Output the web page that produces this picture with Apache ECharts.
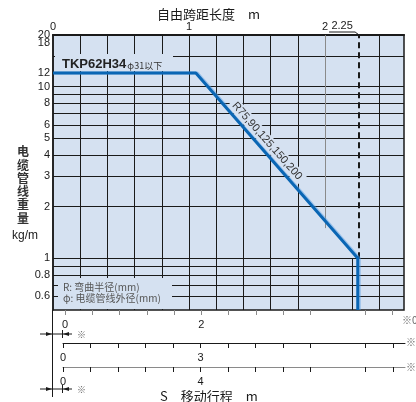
<!DOCTYPE html>
<html><head><meta charset="utf-8">
<script src="https://cdn.jsdelivr.net/npm/echarts@6/dist/echarts.min.js"></script>
<style>html,body{margin:0;padding:0;background:#fff}#c{width:416px;height:402px}</style>
</head><body><div id="c"></div>
<script>
// ---- data ----
const spanX   = [0, 1.05, 2.24, 2.24];      // free span length (m)
const weightY = [12, 12, 1, 0.5];           // cable weight (kg/m)
const limitSpan = 2.25;                     // dashed limit
const limitTop = 1;                         // dashed line ends at 1 kg/m
const topLabels = [0, 1, 2];
const yLabels = [20, 18, 12, 10, 8, 6, 5, 4, 3, 2, 1, 0.8, 0.6];
const yGrid   = [15, 10, 9, 8, 7, 6, 5, 4, 3, 2, 1, 0.9, 0.8, 0.7, 0.6];
const xGrid   = [0.2, 0.4, 0.6, 0.8, 1.0, 1.2, 1.4, 1.6, 1.8, 2.4];
const xGridUpper = [2.0];   // only above 1.5 kg/m
const xGridLower = [2.2];   // only below 1 kg/m
const stroke1Labels = [0, 2, 4];
const stroke2Labels = [0, 3, 6];
const stroke3Labels = [0, 4, 8];

const X_MAX = 2.58, Y_MIN = 0.5, Y_MAX = 20;
const FONT = '"Liberation Sans", "Noto Sans CJK SC", sans-serif';
const CJK = '"Noto Sans CJK SC", "Liberation Sans", sans-serif';
const PLOT_BG = '#d5e1f1';
const INK = '#1a1a1a';
const BLUE = '#0a66b4';
const r2 = v => Math.round(v * 100) / 100;

const chart = echarts.init(document.getElementById('c'), null, {renderer: 'canvas'});

function strokeAxis(gi, labels, step, max, lineColor, tickColor, showLine, margin) {
  const ticks = [];
  for (let v = 0; v <= max + 1e-9; v += step) ticks.push(r2(v));
  return {
    type: 'value', gridIndex: gi, position: 'bottom', min: 0, max: max, interval: step,
    axisLine: {show: showLine, lineStyle: {color: lineColor, width: 1}},
    axisTick: {show: true, length: 5, inside: false, customValues: ticks, lineStyle: {color: tickColor}},
    axisLabel: {customValues: labels, margin: margin, fontSize: 11, color: INK, fontFamily: FONT,
      showMaxLabel: false,
      formatter: v => labels.includes(r2(v)) ? String(r2(v)) : ''},
    splitLine: {show: false}
  };
}

const gridLines = [];
yGrid.forEach(v => gridLines.push([{coord: [0, v]}, {coord: [X_MAX, v]}]));
xGrid.forEach(v => gridLines.push([{coord: [v, Y_MIN]}, {coord: [v, Y_MAX]}]));
xGridUpper.forEach(v => gridLines.push([{coord: [v, 1.5], lineStyle: {color: '#8a8a8a'}}, {coord: [v, Y_MAX]}]));
xGridLower.forEach(v => gridLines.push([{coord: [v, Y_MIN]}, {coord: [v, 1]}]));
const labelLines = yLabels.map(v => [{coord: [0, v], name: String(v)}, {coord: [0.01, v]}]);

const option = {
  animation: false,
  grid: [
    {left: 53, top: 35, width: 351, height: 275, show: true, backgroundColor: PLOT_BG, borderColor: INK, borderWidth: 1.5},
    {left: 65, top: 300, width: 339, height: 10},
    {left: 63, top: 333, width: 342, height: 10},
    {left: 63, top: 357, width: 342, height: 10}
  ],
  xAxis: [
    {type: 'value', gridIndex: 0, position: 'top', min: 0, max: X_MAX, interval: 0.2,
      axisLine: {show: true, lineStyle: {color: INK, width: 2}}, axisTick: {show: false},
      axisLabel: {margin: 3, fontSize: 11, color: INK, fontFamily: FONT, showMaxLabel: false,
        formatter: v => topLabels.includes(r2(v)) ? String(r2(v)) : ''},
      splitLine: {show: false}},
    strokeAxis(1, stroke1Labels, 0.4, 4.97, INK, '#8a8a8a', false, 9),
    strokeAxis(2, stroke2Labels, 0.6, 7.46, INK, INK, true, 9),
    strokeAxis(3, stroke3Labels, 0.8, 9.95, '#8a8a8a', INK, true, 9)
  ],
  yAxis: [
    {type: 'log', logBase: 10, gridIndex: 0, min: Y_MIN, max: Y_MAX,
      axisLine: {show: true, lineStyle: {color: INK, width: 1.5}}, axisTick: {show: false},
      axisLabel: {show: false}, splitLine: {show: false}, minorTick: {show: false}},
    {type: 'value', gridIndex: 1, show: false},
    {type: 'value', gridIndex: 2, show: false},
    {type: 'value', gridIndex: 3, show: false}
  ],
  series: [
    {type: 'line', xAxisIndex: 0, yAxisIndex: 0, data: [], z: 1, silent: true,
      markLine: {silent: true, symbol: ['none', 'none'], animation: false,
        label: {show: false},
        lineStyle: {color: INK, width: 1, type: 'solid'},
        data: gridLines}},
    {type: 'line', xAxisIndex: 0, yAxisIndex: 0, data: [], z: 1, silent: true,
      markLine: {silent: true, symbol: ['none', 'none'], animation: false,
        label: {show: true, position: 'start', distance: 3, formatter: '{b}', fontSize: 11, color: INK, fontFamily: FONT},
        lineStyle: {color: 'rgba(0,0,0,0)', width: 1},
        data: labelLines}},
    {type: 'line', xAxisIndex: 0, yAxisIndex: 0, data: [], z: 2, silent: true,
      markLine: {silent: true, symbol: ['none', 'none'], animation: false,
        label: {show: false},
        lineStyle: {color: INK, width: 2, type: [6, 4]},
        data: [[{coord: [limitSpan, limitTop]}, {coord: [limitSpan, Y_MAX]}]]}},
    {type: 'line', name: 'TKP62H34', xAxisIndex: 0, yAxisIndex: 0, z: 5,
      data: spanX.map((x, i) => [x, weightY[i]]),
      symbol: 'none',
      lineStyle: {color: BLUE, width: 3, shadowColor: 'rgba(90,160,230,0.5)', shadowBlur: 0, shadowOffsetX: 1.5, shadowOffsetY: 0}}
  ]
};
chart.setOption(option);

// annotation positions from the chart's scales
const pLimit = chart.convertToPixel({xAxisIndex: 0, yAxisIndex: 0}, [limitSpan, Y_MAX]);
const lx = pLimit[0], ty = pLimit[1];

const arrowRow = y => ([
  {type: 'line', shape: {x1: 40, y1: y, x2: 72, y2: y}, style: {stroke: INK, lineWidth: 1}, z: 100},
  {type: 'polygon', shape: {points: [[46, y - 2], [52, y], [46, y + 2]]}, style: {fill: INK}, z: 100},
  {type: 'polygon', shape: {points: [[69, y - 2], [63, y], [69, y + 2]]}, style: {fill: INK}, z: 100},
  {type: 'line', shape: {x1: 62.5, y1: y - 4, x2: 62.5, y2: y + 4}, style: {stroke: INK, lineWidth: 1}, z: 100},
  {type: 'text', x: 77, y: y + 1, style: {text: '※', font: '9px ' + CJK, fill: '#666', verticalAlign: 'middle'}, z: 100}
]);

chart.setOption({
  graphic: [
    // titles
    {type: 'text', x: 157, y: 14, style: {text: '自由跨距长度　m', font: '13px ' + CJK, fill: INK, verticalAlign: 'middle'}, z: 100},
    {type: 'text', x: 160, y: 396, style: {text: 'S　移动行程　m', font: '13px ' + CJK, fill: INK, verticalAlign: 'middle'}, z: 100},
    {type: 'text', x: 23, y: 145, style: {text: '电\n缆\n管\n线\n重\n量', font: 'bold 12px ' + CJK, lineHeight: 13.3, fill: '#333', align: 'center'}, z: 100},
    {type: 'text', x: 25, y: 236, style: {text: 'kg/m', font: '12px ' + FONT, fill: INK, align: 'center', verticalAlign: 'middle'}, z: 100},
    // model label box
    {type: 'rect', shape: {x: 55, y: 54, width: 118, height: 17}, style: {fill: PLOT_BG}, z: 90},
    {type: 'text', x: 62, y: 64, z: 100, style: {
      text: '{a|TKP62H34}{b|φ31以下}', verticalAlign: 'middle',
      rich: {a: {font: 'bold 13px ' + FONT, fill: '#222'}, b: {font: '9px ' + CJK, fill: '#333', padding: [3, 0, 0, 1]}}}},
    // bend radius label along line
    {type: 'text', x: 267, y: 141, rotation: -48.5 * Math.PI / 180, z: 100,
      style: {text: 'R75,90,125,150,200', font: '11px ' + FONT, fill: '#333', align: 'center', verticalAlign: 'middle',
        backgroundColor: PLOT_BG, padding: [1, 3]}},
    // legend box
    {type: 'rect', shape: {x: 58, y: 278, width: 114, height: 31}, style: {fill: PLOT_BG}, z: 90},
    {type: 'text', x: 63, y: 287, style: {text: 'R: 弯曲半径(mm)', font: '10px ' + CJK, fill: '#555', verticalAlign: 'middle'}, z: 100},
    {type: 'text', x: 63, y: 298.5, style: {text: 'φ: 电缆管线外径(mm)', font: '10px ' + CJK, fill: '#555', verticalAlign: 'middle'}, z: 100},
    // 2.25 annotation
    {type: 'text', x: lx - 17, y: ty - 9, style: {text: '2.25', font: '11px ' + FONT, fill: INK, align: 'center', verticalAlign: 'middle'}, z: 100},
    {type: 'polyline', shape: {points: [[lx - 30, ty - 3], [lx - 4, ty - 3], [lx, ty]]}, style: {stroke: INK, lineWidth: 1, fill: null}, z: 100},
    // left frame line below plot
    {type: 'line', shape: {x1: 52.5, y1: 310, x2: 52.5, y2: 397}, style: {stroke: INK, lineWidth: 1}, z: 100},
    ...arrowRow(334),
    ...arrowRow(389),
    // right-edge notes (cut off by the frame)
    {type: 'text', x: 402, y: 320, style: {text: '※0', font: '10px ' + CJK, fill: '#666', verticalAlign: 'middle'}, z: 100},
    {type: 'text', x: 406, y: 342, style: {text: '※', font: '10px ' + CJK, fill: '#666', verticalAlign: 'middle'}, z: 100},
    {type: 'text', x: 406, y: 367, style: {text: '※', font: '10px ' + CJK, fill: '#666', verticalAlign: 'middle'}, z: 100}
  ]
});
</script>
</body></html>
